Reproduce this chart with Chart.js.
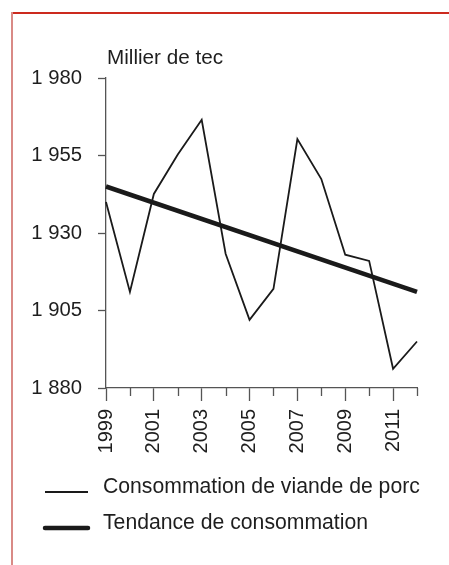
<!DOCTYPE html>
<html>
<head>
<meta charset="utf-8">
<script src="https://cdn.jsdelivr.net/npm/chart.js@4.4.0/dist/chart.umd.min.js"></script>
<style>
  html, body { margin: 0; padding: 0; background: #fff; }
  #wrap { position: relative; width: 449px; height: 565px; overflow: hidden; }
  #cadreHaut { position: absolute; left: 11px; top: 12px; width: 438px; height: 1.5px; background: #cc2a1e; }
  #cadreGauche { position: absolute; left: 11px; top: 12px; width: 2px; height: 553px; background: #d98a86; }
  canvas { position: absolute; left: 0; top: 0; }
</style>
</head>
<body>
<div id="wrap">
  <canvas id="porcChart" width="449" height="565"></canvas>
  <div id="cadreHaut"></div>
  <div id="cadreGauche"></div>
</div>
<script>
// Données (milliers de tec)
const annees = ['1999','2000','2001','2002','2003','2004','2005','2006','2007','2008','2009','2010','2011','2012'];
const consommation = [1940, 1911, 1942.6, 1955.3, 1966.5, 1923.3, 1902, 1912, 1960.3, 1947.4, 1923, 1921, 1886.2, 1895];
// Tendance : seulement les deux extrémités, la droite est tracée entre elles
const tendance = [1945, null, null, null, null, null, null, null, null, null, null, null, null, 1911];
const graduationsY = [1880, 1905, 1930, 1955, 1980];

const uniteTexte = 'Millier de tec';
const police = "'Liberation Sans', Arial, Helvetica, sans-serif";

// Petites graduations (années paires) + titre d'unité + légende
const decorPlugin = {
    id: 'decor',
    afterDraw(chart) {
        const c = chart.ctx;
        const xs = chart.scales.x;
        const area = chart.chartArea;
        c.save();
        // graduations secondaires
        c.strokeStyle = '#555';
        c.lineWidth = 1.3;
        annees.forEach((a, i) => {
            if (i % 2 === 1) {
                const px = Math.round(xs.getPixelForValue(i)) + 0.5;
                c.beginPath();
                c.moveTo(px, area.bottom);
                c.lineTo(px, area.bottom + 8);
                c.stroke();
            }
        });
        // unité
        c.fillStyle = '#1e1e1e';
        c.font = '20.7px ' + police;
        c.textBaseline = 'alphabetic';
        c.textAlign = 'left';
        c.fillText(uniteTexte, area.left + 1, area.top - 14);
        // légende
        c.font = '21.2px ' + police;
        const items = chart.data.datasets;
        items.forEach((ds, i) => {
            const yb = 493 + i * 36;
            c.strokeStyle = ds.borderColor;
            c.lineWidth = ds.borderWidth;
            c.lineCap = i === 1 ? 'round' : 'butt';
            c.beginPath();
            c.moveTo(45, yb - 1);
            c.lineTo(88, yb - 1);
            c.stroke();
            c.fillText(ds.label, 103, yb);
        });
        c.restore();
    }
};

const ctx = document.getElementById('porcChart').getContext('2d');
new Chart(ctx, {
    type: 'line',
    data: {
        labels: annees,
        datasets: [{
            label: 'Consommation de viande de porc',
            data: consommation,
            borderColor: '#1a1a1a',
            borderWidth: 1.8,
            pointRadius: 0,
            tension: 0,
            fill: false
        },
        {
            label: 'Tendance de consommation',
            data: tendance,
            borderColor: '#1a1a1a',
            borderWidth: 4.5,
            pointRadius: 0,
            spanGaps: true,
            fill: false
        }]
    },
    options: {
        responsive: false,
        animation: false,
        layout: {
            padding: { left: 0, top: 78, right: 32, bottom: 97 }
        },
        plugins: {
            legend: { display: false },
            tooltip: { enabled: false }
        },
        scales: {
            x: {
                type: 'category',
                offset: false,
                afterFit: (s) => { s.height = 80; },
                border: { display: true, color: '#555', width: 1.3 },
                grid: {
                    drawOnChartArea: false,
                    tickLength: 13,
                    tickWidth: 1.3,
                    tickColor: (c) => (c.index % 2 === 0 ? '#555' : 'rgba(0,0,0,0)')
                },
                ticks: {
                    autoSkip: false,
                    minRotation: 90,
                    maxRotation: 90,
                    padding: 8,
                    color: '#1e1e1e',
                    font: { family: police, size: 20 },
                    callback: function (v, i) { return i % 2 === 0 ? annees[i] : ''; }
                }
            },
            y: {
                min: 1880,
                max: 1980,
                afterFit: (s) => { s.width = 106; },
                afterBuildTicks: (s) => { s.ticks = graduationsY.map(v => ({ value: v })); },
                border: { display: true, color: '#555', width: 1.3 },
                grid: {
                    drawOnChartArea: false,
                    tickLength: 8,
                    tickWidth: 1.3,
                    tickColor: '#555'
                },
                ticks: {
                    padding: 16,
                    color: '#1e1e1e',
                    font: { family: police, size: 20.3 },
                    callback: (v) => String(v).replace(/(\d)(\d{3})$/, '$1 $2')
                }
            }
        }
    },
    plugins: [decorPlugin]
});
</script>
</body>
</html>
